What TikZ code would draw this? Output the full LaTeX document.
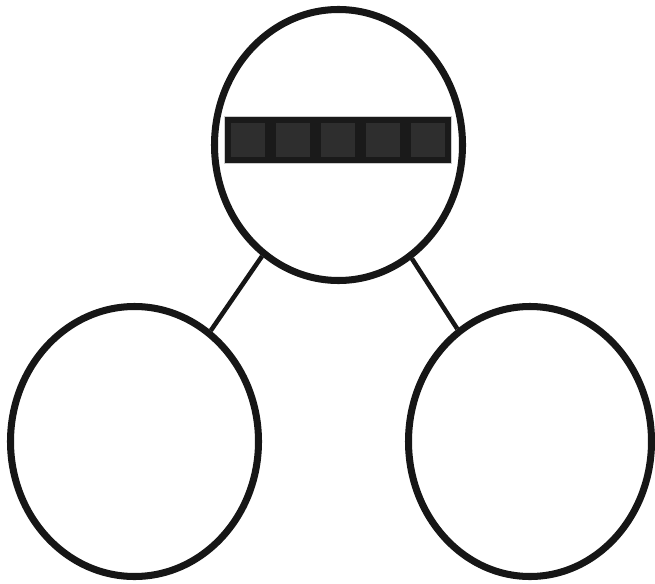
\documentclass[tikz,border=0pt]{standalone}
\usepackage{tikz}
\usetikzlibrary{positioning, shapes.geometric}
\usepackage{xcolor}

\definecolor{barfill}{HTML}{1A1A1A}
\definecolor{cellfill}{HTML}{2E2E2E}
\definecolor{ringline}{HTML}{161616}

\begin{document}
\begin{tikzpicture}[
    x=0.02cm, y=-0.02cm,
    ring/.style={draw=ringline, ellipse, line width=4pt, inner sep=0pt, fill=white},
    link/.style={draw=ringline, line width=2.6pt},
    bar/.style={draw=gray!40, line width=0.4pt, fill=barfill, inner sep=0pt, minimum width=227*0.02cm, minimum height=47*0.02cm},
    cell/.style={draw=none, fill=cellfill, inner sep=0pt, minimum size=34*0.02cm}
]
    \useasboundingbox (0,0) rectangle (655,584);

    \node[ring, minimum width=248*0.02cm, minimum height=271*0.02cm] (root) at (338.5,145) {};
    \node[ring, minimum width=248*0.02cm, minimum height=270*0.02cm] (left) at (134.5,441.5) {};
    \node[ring, minimum width=243*0.02cm, minimum height=270*0.02cm] (right) at (530,441.5) {};

    \draw[link] (root) -- (left);
    \draw[link] (root) -- (right);

    % key slots inside the root
    \node[bar] (keys) at (337.5,139.5) {};
    \foreach \i in {0,...,4}
        \node[cell] (k\i) at (247.5+45*\i,140) {};
\end{tikzpicture}
\end{document}
